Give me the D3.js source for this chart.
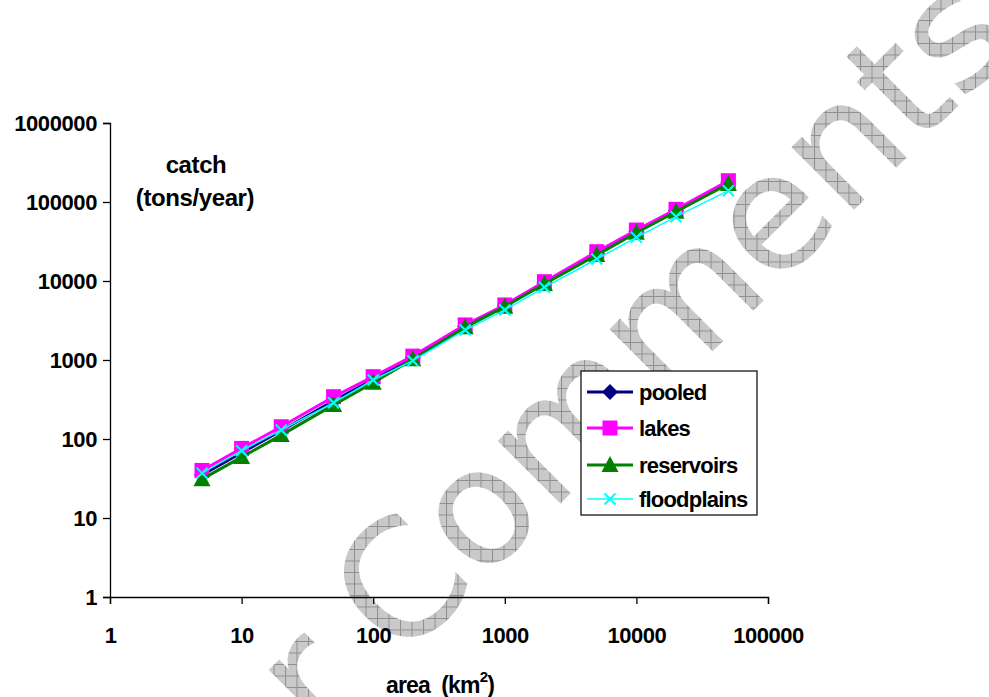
<!DOCTYPE html>
<html>
<head>
<meta charset="utf-8">
<script src="https://cdn.jsdelivr.net/npm/d3@7"></script>
<style>
  body { margin: 0; background: #fff; }
  text { font-family: "Liberation Sans", Arial, sans-serif; font-weight: bold; fill: #000; }
</style>
</head>
<body>
<svg id="chart" width="989" height="697"></svg>
<script>
// area (km2) on the x axis
const areas = [5, 10, 20, 50, 100, 200, 500, 1000, 2000, 5000, 10000, 20000, 50000];
// catch (tons/year)
const pooled      = [35, 67, 127, 305, 565, 1070, 2680, 4850, 9450, 22400, 42500, 78000, 178000];
const lakes       = [40, 76, 143, 343, 615, 1120, 2780, 4970, 9800, 23500, 44200, 80800, 186000];
const reservoirs  = [31, 59, 112, 270, 516, 1020, 2590, 4730, 9160, 21300, 40800, 75300, 169000];
const floodplains = [37, 71, 130, 288, 558, 980, 2400, 4300, 8320, 19000, 35700, 65200, 139000];

const xTicks = [1, 10, 100, 1000, 10000, 100000];
const yTicks = [1, 10, 100, 1000, 10000, 100000, 1000000];
const seriesNames = ['pooled', 'lakes', 'reservoirs', 'floodplains'];

const svg = d3.select('#chart');

// watermark: checkered grey text behind the chart
const defs = svg.append('defs');
const pat = defs.append('pattern')
    .attr('id', 'wm')
    .attr('patternUnits', 'userSpaceOnUse')
    .attr('width', 11.5).attr('height', 11.5)
    .attr('patternTransform', 'rotate(45)');
pat.append('rect').attr('width', 11.5).attr('height', 11.5).attr('fill', '#c9c9c9');
pat.append('path').attr('d', 'M0,0.5H11.5M0.5,0V11.5').attr('stroke', '#8f8f8f').attr('stroke-width', 1);

const wm = svg.append('g')
    .attr('transform', 'translate(400,664) rotate(-45)');
wm.append('text')
    .attr('x', 0).attr('y', 0)
    .style('font-family', '"DejaVu Sans", sans-serif')
    .style('font-weight', 'normal')
    .style('font-size', '162px')
    .style('fill', 'url(#wm)')
    .text('Comments');
wm.append('text')
    .attr('x', -45).attr('y', 0)
    .attr('text-anchor', 'end')
    .style('font-family', '"DejaVu Sans", sans-serif')
    .style('font-weight', 'normal')
    .style('font-size', '162px')
    .style('fill', 'url(#wm)')
    .text('For');

const x = d3.scaleLog().domain([1, 100000]).range([110, 768]);
const y = d3.scaleLog().domain([1, 1000000]).range([597, 123]);

// axes
const xAxis = svg.append('g')
    .attr('transform', 'translate(0,597)')
    .call(d3.axisBottom(x).tickValues(xTicks).tickFormat(d3.format('d')).tickSizeOuter(0).tickSize(7));
xAxis.select('.domain').attr('stroke', '#000').attr('stroke-width', 1.3);
xAxis.selectAll('.tick line').attr('stroke', '#000').attr('stroke-width', 1.3);
xAxis.selectAll('.tick text')
    .attr('y', 46).attr('dy', 0)
    .style('font-size', '22px').style('letter-spacing', '-0.5px');

const yAxis = svg.append('g')
    .attr('transform', 'translate(110,0)')
    .call(d3.axisLeft(y).tickValues(yTicks).tickFormat(d3.format('d')).tickSizeOuter(0).tickSize(7));
yAxis.select('.domain').attr('stroke', '#000').attr('stroke-width', 1.3);
yAxis.selectAll('.tick line').attr('stroke', '#000').attr('stroke-width', 1.3);
yAxis.selectAll('.tick text')
    .attr('x', -13).attr('dy', '0.36em')
    .style('font-size', '22px').style('letter-spacing', '-0.4px');
svg.selectAll('.tick text').attr('font-size', null).attr('font-family', null).attr('fill', '#000');

// axis titles
svg.append('text').attr('x', 196).attr('y', 173).attr('text-anchor', 'middle')
    .style('font-size', '24px').style('letter-spacing', '-0.4px').text('catch');
svg.append('text').attr('x', 195).attr('y', 206).attr('text-anchor', 'middle')
    .style('font-size', '24px').style('letter-spacing', '-0.4px').text('(tons/year)');
const xt = svg.append('text').attr('x', 440).attr('y', 693).attr('text-anchor', 'middle')
    .style('font-size', '23px').style('letter-spacing', '-0.8px').attr('xml:space', 'preserve');
xt.append('tspan').text('area  (km');
xt.append('tspan').attr('dy', -11).style('font-size', '15px').text('2');
xt.append('tspan').attr('dy', 11).text(')');

// series
const series = [
  {name: 'pooled', values: pooled, color: '#000080', width: 3, marker: 'diamond'},
  {name: 'lakes', values: lakes, color: '#ff00ff', width: 3, marker: 'square'},
  {name: 'reservoirs', values: reservoirs, color: '#008000', width: 3, marker: 'triangle'},
  {name: 'floodplains', values: floodplains, color: '#00ffff', width: 1.5, marker: 'x'}
];

function drawMarker(g, kind, color) {
  if (kind === 'diamond') {
    g.append('path').attr('d', 'M0,-8L8,0L0,8L-8,0Z').attr('fill', color);
  } else if (kind === 'square') {
    g.append('rect').attr('x', -7.5).attr('y', -7.5).attr('width', 15).attr('height', 15).attr('fill', color);
  } else if (kind === 'triangle') {
    g.append('path').attr('d', 'M0,-9L8.5,7L-8.5,7Z').attr('fill', color);
  } else {
    g.append('path').attr('d', 'M-5.5,-5.5L5.5,5.5M-5.5,5.5L5.5,-5.5')
      .attr('stroke', color).attr('stroke-width', 2).attr('fill', 'none');
  }
}

const line = d3.line().x(d => x(d[0])).y(d => y(d[1]));
series.forEach(s => {
  const pts = areas.map((a, i) => [a, s.values[i]]);
  svg.append('path').datum(pts)
    .attr('d', line).attr('fill', 'none')
    .attr('stroke', s.color).attr('stroke-width', s.width);
  svg.append('g').selectAll('g').data(pts).join('g')
    .attr('transform', d => `translate(${x(d[0])},${y(d[1])})`)
    .each(function() { drawMarker(d3.select(this), s.marker, s.color); });
});

// legend
const legend = svg.append('g').attr('transform', 'translate(581,371)');
legend.append('rect').attr('width', 176).attr('height', 144)
    .attr('fill', '#fff').attr('stroke', '#000').attr('stroke-width', 1.2);
const rowY = [21, 57, 94, 128];
series.forEach((s, i) => {
  const r = legend.append('g').attr('transform', `translate(0,${rowY[i]})`);
  r.append('line').attr('x1', 6).attr('x2', 52).attr('stroke', s.color).attr('stroke-width', s.width);
  drawMarker(r.append('g').attr('transform', 'translate(29,0)'), s.marker, s.color);
  r.append('text').attr('x', 58).attr('dy', '0.36em')
    .style('font-size', '22px').style('letter-spacing', '-0.8px').text(seriesNames[i]);
});
</script>
</body>
</html>
